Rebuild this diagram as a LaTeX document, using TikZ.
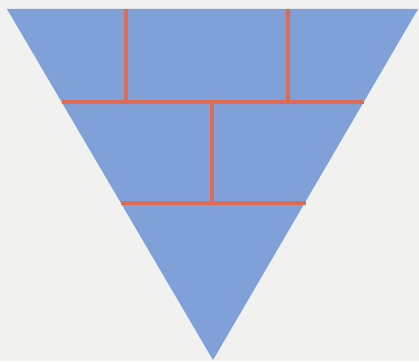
\documentclass[tikz,border=0pt]{standalone}
\usepackage{tikz}

\definecolor{wedgeblue}{RGB}{128,161,216}
\definecolor{seamred}{RGB}{222,108,84}
\definecolor{paper}{RGB}{241,241,240}

\begin{document}
\begin{tikzpicture}[x=0.01cm, y=-0.01cm]
        % Page background (fixes the margins)
        \fill[paper] (0,0) rectangle (419,361);

        % Inverted triangle
        \fill[wedgeblue] (7,9) -- (418,9) -- (213,360) -- cycle;

        % Horizontal seams
        \draw[seamred, line width=0.9pt] (61.5,102) -- (363.5,102);
        \draw[seamred, line width=0.9pt] (120.5,203) -- (305.5,203);

        % Vertical seams, top band
        \draw[seamred, line width=0.9pt] (126,9) -- (126,102);
        \draw[seamred, line width=0.9pt] (288,9) -- (288,102);

        % Vertical seam, middle band
        \draw[seamred, line width=0.9pt] (212,102) -- (212,203);
    \end{tikzpicture}
\end{document}
